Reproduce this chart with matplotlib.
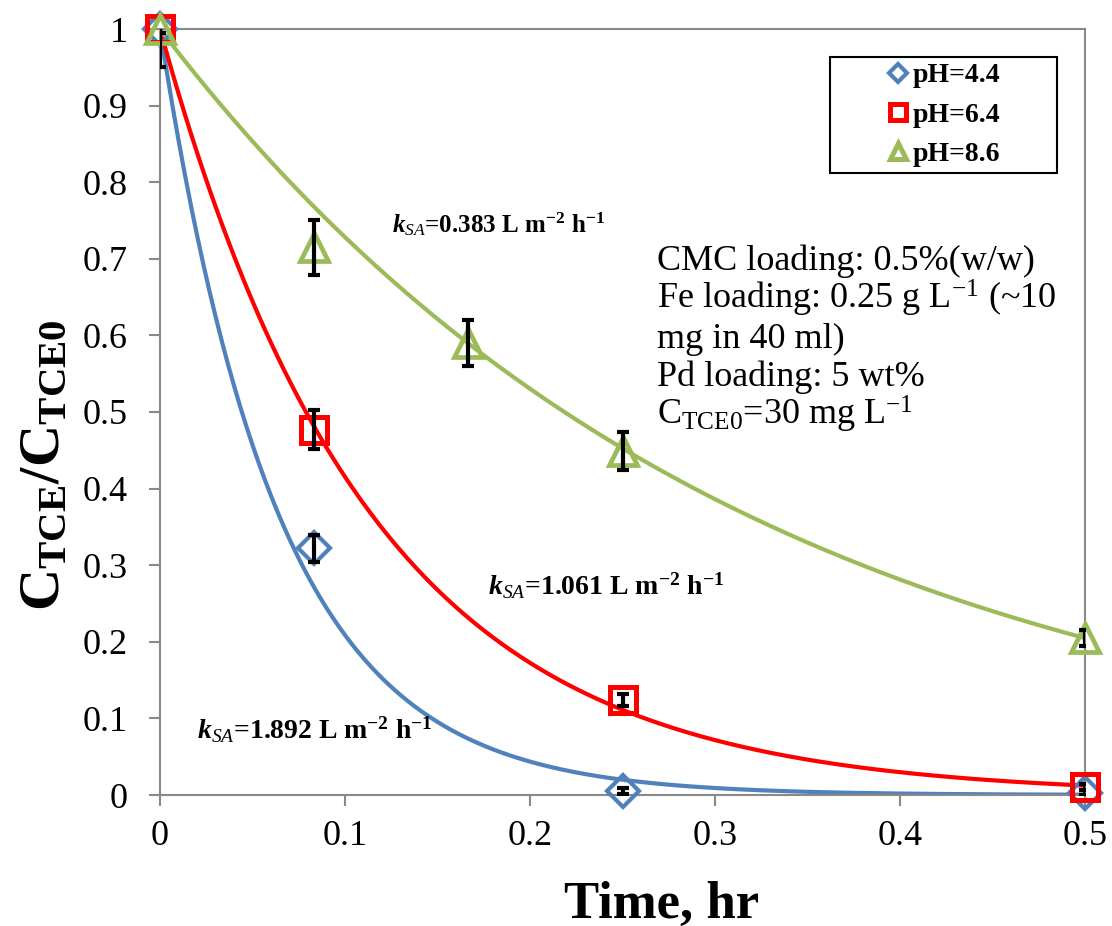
#!/usr/bin/env python3
import matplotlib
matplotlib.use('Agg')
import matplotlib.figure
import matplotlib.lines
import matplotlib.patches
import numpy as np


# measured C/C0 (mean) and error bars for the three pH runs
TIME_44 = [0, 0.0833, 0.25, 0.5]
C_44 = [1.0, 0.322, 0.005, 0.003]
ERR_44 = [0.05, 0.018, 0.004, 0.003]

TIME_64 = [0, 0.0833, 0.25, 0.5]
C_64 = [1.0, 0.477, 0.124, 0.011]
ERR_64 = [0.005, 0.025, 0.008, 0.004]

TIME_86 = [0, 0.0833, 0.1667, 0.25, 0.5]
C_86 = [1.0, 0.715, 0.59, 0.449, 0.205]
ERR_86 = [0.005, 0.036, 0.03, 0.025, 0.01]

LABELS = ['pH=4.4', 'pH=6.4', 'pH=8.6']
K_SA = [1.892, 1.061, 0.383]      # L m-2 h-1
AS_RHO = 8.28                     # specific surface * Fe loading, m2 L-1

X_TICKS = [0, 0.1, 0.2, 0.3, 0.4, 0.5]
X_TICK_LABELS = ['0', '0.1', '0.2', '0.3', '0.4', '0.5']
Y_TICKS = [0, 0.1, 0.2, 0.3, 0.4, 0.5, 0.6, 0.7, 0.8, 0.9, 1.0]
Y_TICK_LABELS = ['0', '0.1', '0.2', '0.3', '0.4', '0.5', '0.6', '0.7', '0.8', '0.9', '1']

NOTES = [
    'CMC loading: 0.5%(w/w)',
    r'Fe loading: 0.25 g L$^{-1}$ (~10',
    'mg in 40 ml)',
    'Pd loading: 5 wt%',
    r'C$_{\mathrm{TCE0}}$=30 mg L$^{-1}$',
]

BLUE = '#4F81BD'
RED = '#FF0000'
GREEN = '#9BBB59'
GREY = '#898989'

matplotlib.rcParams.update({
    'font.family': ['Liberation Serif', 'DejaVu Serif'],
    'mathtext.fontset': 'custom',
    'mathtext.rm': 'Liberation Serif',
    'mathtext.it': 'Liberation Serif:italic',
    'mathtext.bf': 'Liberation Serif:bold',
    'mathtext.bfit': 'Liberation Serif:italic:bold',
})


def draw_series(ax, t, c, err, k_sa, color, marker, ms, mew):
    tt = np.linspace(0, 0.5, 300)
    ax.plot(tt, np.exp(-k_sa * AS_RHO * tt), color=color, lw=3, zorder=2)
    ax.plot(t, c, ls='none', marker=marker, ms=ms, mew=mew, mec=color,
            mfc='none', clip_on=False, zorder=3)
    ax.errorbar(t, c, yerr=err, fmt='none', ecolor='black', elinewidth=3,
                capsize=4.5, capthick=3, zorder=4)


def main():
    fig = matplotlib.figure.Figure(figsize=(11.12, 9.26), dpi=100)
    ax = fig.add_axes([160 / 1112, 1 - 795 / 926, 925 / 1112, 766 / 926])

    draw_series(ax, TIME_44, C_44, ERR_44, K_SA[0], BLUE, 'D', 16, 3)
    draw_series(ax, TIME_64, C_64, ERR_64, K_SA[1], RED, 's', 19, 3.6)
    draw_series(ax, TIME_86, C_86, ERR_86, K_SA[2], GREEN, '^', 19.5, 3.4)

    ax.set_xlim(0, 0.5)
    ax.set_ylim(0, 1)
    ax.set_xticks(X_TICKS, X_TICK_LABELS)
    ax.set_yticks(Y_TICKS, Y_TICK_LABELS)
    ax.tick_params(axis='y', direction='out', length=8, width=1.5, color=GREY,
                   pad=15, labelsize=26)
    ax.tick_params(axis='x', direction='out', length=8, width=1.5, color=GREY,
                   pad=10, labelsize=26)
    for s in ax.spines.values():
        s.set_color(GREY)
        s.set_linewidth(1.5)

    # rate constant labels
    ax.text(0.1254, 0.734, r'$\mathbfit{k}_{\mathit{SA}}$=0.383 L m$^{\mathbf{-2}}$ h$^{\mathbf{-1}}$',
            fontsize=18, fontweight='bold', va='baseline')
    ax.text(0.1773, 0.261, r'$\mathbfit{k}_{\mathit{SA}}$=1.061 L m$^{\mathbf{-2}}$ h$^{\mathbf{-1}}$',
            fontsize=20, fontweight='bold', va='baseline')
    ax.text(0.020, 0.073, r'$\mathbfit{k}_{\mathit{SA}}$=1.892 L m$^{\mathbf{-2}}$ h$^{\mathbf{-1}}$',
            fontsize=20, fontweight='bold', va='baseline')

    for i, line in enumerate(NOTES):
        ax.text(0.2686, 0.685 - i * 0.0505, line, fontsize=26, va='baseline')

    # legend in a wide box
    ax.add_patch(matplotlib.patches.Rectangle(
        (0.7243, 0.812), 0.2454, 0.1514, transform=ax.transAxes,
        facecolor='white', edgecolor='black', lw=1.5, zorder=6))
    handles = [
        matplotlib.lines.Line2D([], [], ls='none', marker='D', ms=9, mew=3, mec=BLUE, mfc='none'),
        matplotlib.lines.Line2D([], [], ls='none', marker='s', ms=11, mew=3.6, mec=RED, mfc='none'),
        matplotlib.lines.Line2D([], [], ls='none', marker='^', ms=12, mew=3.6, mec=GREEN, mfc='none'),
    ]
    leg = ax.legend(handles, LABELS, loc='center', bbox_to_anchor=(0.847, 0.8877),
                    frameon=False, prop={'size': 20, 'weight': 'bold'},
                    handlelength=0.8, handletextpad=0.1, labelspacing=0.5,
                    numpoints=1, borderpad=0)
    leg.set_zorder(7)

    fig.text(662 / 1112, 1 - 918 / 926, 'Time, hr', fontsize=38, fontweight='bold',
             ha='center', va='baseline')
    fig.text(45 / 1112, 1 - 465 / 926, r'C$_{\mathbf{TCE}}$/C$_{\mathbf{TCE0}}$',
             fontsize=42, fontweight='bold', rotation=90, ha='center', va='center')

    fig.savefig('out.png', dpi=100)


if __name__ == '__main__':
    main()
